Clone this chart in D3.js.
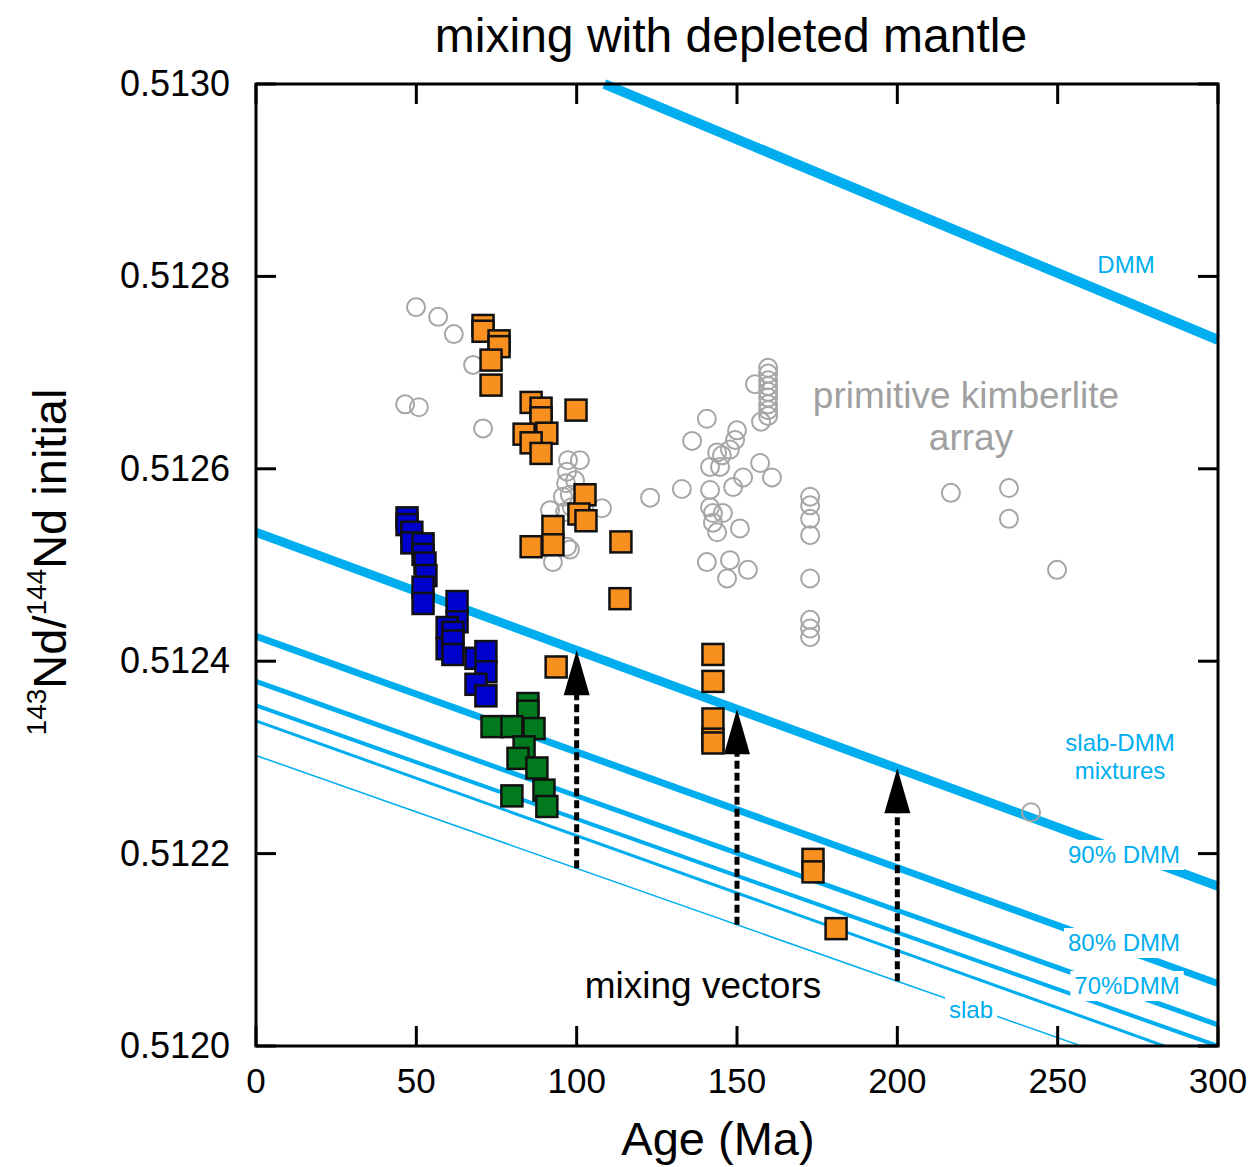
<!DOCTYPE html>
<html>
<head>
<meta charset="utf-8">
<script src="https://cdn.jsdelivr.net/npm/d3@7"></script>
<style>
  body { margin: 0; background: #fff; }
  text { font-family: "Liberation Sans", Arial, sans-serif; }
</style>
</head>
<body>
<div id="main"></div>
<script>
// axis ticks
const xTicks = [0, 50, 100, 150, 200, 250, 300];
const yTicks = [0.5120, 0.5122, 0.5124, 0.5126, 0.5128, 0.5130];

// mixing lines: Nd at 0 Ma and at 300 Ma
const lineNames = ['DMM', '90% DMM', '80% DMM', '70%DMM', '60% DMM', '50% DMM', 'slab'];
const lineNdStart = [0.513151, 0.512534, 0.512426, 0.512379, 0.512354, 0.512338, 0.512302];
const lineNdEnd = [0.512734, 0.512166, 0.512065, 0.512022, 0.512000, 0.511980, 0.511950];

// mixing vectors (ages)
const arrowAges = [100, 150, 200];

// primitive kimberlite array [age, Nd]
const kimberlite = [
  [49.9, 0.512768], [56.8, 0.512758], [61.7, 0.512740], [67.7, 0.512708], [46.5, 0.512667],
  [50.8, 0.512664], [70.8, 0.512642], [97.3, 0.512609], [101.0, 0.512609], [97.0, 0.512597],
  [96.7, 0.512585], [95.7, 0.512571], [98.5, 0.512560], [107.9, 0.512559], [96.4, 0.512555],
  [91.7, 0.512557], [97.9, 0.512516], [92.6, 0.512503], [97.0, 0.512519], [97.9, 0.512573],
  [99.5, 0.512588], [122.9, 0.512570], [132.8, 0.512579], [136.0, 0.512629], [140.6, 0.512652],
  [155.6, 0.512688], [159.7, 0.512705], [159.7, 0.512699], [159.7, 0.512692], [159.7, 0.512686],
  [159.7, 0.512680], [159.7, 0.512674], [159.7, 0.512667], [159.7, 0.512661], [159.7, 0.512655],
  [157.5, 0.512649], [150.0, 0.512640], [149.4, 0.512630], [143.8, 0.512617], [147.8, 0.512620],
  [145.3, 0.512614], [157.2, 0.512606], [160.9, 0.512591], [151.9, 0.512591], [148.8, 0.512581],
  [141.6, 0.512578], [144.7, 0.512602], [141.6, 0.512602], [142.5, 0.512554], [145.6, 0.512554],
  [150.9, 0.512538], [142.5, 0.512544], [143.8, 0.512534], [141.6, 0.512560], [140.6, 0.512503],
  [147.8, 0.512505], [146.9, 0.512486], [153.4, 0.512495], [172.8, 0.512571], [172.8, 0.512562],
  [172.8, 0.512548], [172.8, 0.512531], [172.8, 0.512486], [172.8, 0.512443], [172.8, 0.512434],
  [172.8, 0.512425], [216.7, 0.512575], [234.8, 0.512580], [234.8, 0.512548], [249.8, 0.512495],
  [241.7, 0.512243]
];

const orangeSamples = [
  [70.8, 0.512749], [70.8, 0.512743], [75.8, 0.512733], [75.8, 0.512727], [73.3, 0.512713],
  [73.3, 0.512687], [85.8, 0.512669], [88.9, 0.512663], [88.9, 0.512653], [99.8, 0.512661],
  [83.6, 0.512636], [90.7, 0.512637], [85.8, 0.512627], [88.9, 0.512616], [102.6, 0.512573],
  [100.7, 0.512553], [102.9, 0.512546], [92.6, 0.512540], [92.6, 0.512521], [85.8, 0.512519],
  [113.8, 0.512524], [113.5, 0.512465], [93.6, 0.512394], [142.5, 0.512407], [142.5, 0.512379],
  [142.5, 0.512340], [142.5, 0.512319], [142.5, 0.512315], [173.7, 0.512194], [173.7, 0.512181],
  [180.9, 0.512122]
];

const blueSamples = [
  [47.1, 0.512549], [47.1, 0.512542], [48.6, 0.512534], [48.6, 0.512523], [52.1, 0.512522],
  [52.1, 0.512511], [52.7, 0.512502], [53.0, 0.512489], [52.1, 0.512477], [52.1, 0.512460],
  [62.7, 0.512462], [62.7, 0.512441], [59.6, 0.512435], [59.6, 0.512413], [61.4, 0.512430],
  [61.4, 0.512421], [61.4, 0.512407], [68.6, 0.512403], [71.7, 0.512410], [71.7, 0.512389],
  [68.6, 0.512376], [71.7, 0.512364]
];

const greenSamples = [
  [84.8, 0.512356], [84.8, 0.512348], [73.6, 0.512332], [79.8, 0.512332], [86.7, 0.512330],
  [83.6, 0.512311], [81.7, 0.512299], [87.6, 0.512289], [89.8, 0.512266], [90.7, 0.512249],
  [79.8, 0.512260]
];

const CYAN = '#00aeef';

class NdMixingPlot {
  constructor(config) {
    this.config = config;
    this.svg = null;
    this.margins = null;
    this.xScale = null;
    this.yScale = null;
    this.createSvg();
    this.createMargins();
    this.createScales();
  }

  createSvg() {
    this.svg = d3.select(this.config.div)
      .append('svg')
      .attr('width', 1250)
      .attr('height', 1167);
  }

  createMargins() {
    this.margins = this.svg.append('g')
      .attr('transform', `translate(${this.config.left},${this.config.top})`);
  }

  createScales() {
    this.xScale = d3.scaleLinear().domain([0, 300]).range([0, this.config.width]);
    this.yScale = d3.scaleLinear().domain([0.5120, 0.5130]).range([this.config.height, 0]);
  }

  lineAt(i, age) {
    return lineNdStart[i] + (lineNdEnd[i] - lineNdStart[i]) * age / 300;
  }

  // age where line i reaches the top of the y domain (0 if it starts inside)
  startAge(i) {
    let top = this.yScale.domain()[1];
    if (lineNdStart[i] <= top) return 0;
    return (lineNdStart[i] - top) / (lineNdStart[i] - lineNdEnd[i]) * 300;
  }

  renderLines() {
    this.svg.append('defs').append('clipPath').attr('id', 'plotclip')
      .append('rect')
        .attr('x', -4).attr('y', -10)
        .attr('width', this.config.width + 8)
        .attr('height', this.config.height + 10);

    let widths = [10, 9, 7, 5, 4, 3, 1.5];
    this.margins.append('g')
      .attr('clip-path', 'url(#plotclip)')
      .selectAll('line')
      .data(lineNames)
      .enter()
      .append('line')
        .attr('x1', (d, i) => this.xScale(this.startAge(i)))
        .attr('x2', this.xScale(300))
        .attr('y1', (d, i) => this.yScale(this.lineAt(i, this.startAge(i))))
        .attr('y2', (d, i) => this.yScale(lineNdEnd[i]))
        .attr('stroke', CYAN)
        .attr('stroke-width', (d, i) => widths[i]);
  }

  renderLineLabels() {
    let g = this.margins.append('g');
    let labels = [
      {t: '90% DMM', x: 1124, y: 863, box: true},
      {t: '80% DMM', x: 1124, y: 951, box: true},
      {t: '70%DMM', x: 1127, y: 994, box: true},
      {t: 'slab', x: 971, y: 1018, box: true},
      {t: 'DMM', x: 1126, y: 273, box: false},
      {t: 'slab-DMM', x: 1120, y: 751, box: false},
      {t: 'mixtures', x: 1120, y: 779, box: false}
    ];
    labels.forEach(l => {
      let txt = g.append('text')
        .attr('x', l.x - this.config.left)
        .attr('y', l.y - this.config.top)
        .attr('text-anchor', 'middle')
        .attr('font-size', 24)
        .attr('fill', CYAN)
        .text(l.t);
      if (l.box) {
        let b = txt.node().getBBox();
        g.insert('rect', () => txt.node())
          .attr('x', b.x - 4).attr('y', b.y - 1)
          .attr('width', b.width + 8).attr('height', b.height + 3)
          .attr('fill', '#fff');
      }
    });
  }

  renderArrows() {
    let g = this.margins.append('g');
    arrowAges.forEach(a => {
      let x = this.xScale(a);
      let yBottom = this.yScale(this.lineAt(6, a));
      let yTip = this.yScale(this.lineAt(1, a));
      g.append('line')
        .attr('x1', x).attr('x2', x)
        .attr('y1', yBottom).attr('y2', yTip + 40)
        .attr('stroke', '#000')
        .attr('stroke-width', 5)
        .attr('stroke-dasharray', '8,4');
      g.append('path')
        .attr('d', `M${x},${yTip} L${x - 13},${yTip + 45} L${x + 13},${yTip + 45} Z`)
        .attr('fill', '#000');
    });
  }

  renderPoints() {
    this.margins.append('g')
      .selectAll('circle')
      .data(kimberlite)
      .enter()
      .append('circle')
        .attr('cx', d => this.xScale(d[0]))
        .attr('cy', d => this.yScale(d[1]))
        .attr('r', 9)
        .attr('fill', 'none')
        .attr('stroke', '#a6a6a6')
        .attr('stroke-width', 2);

    let s = 21;
    [[orangeSamples, '#f7901e'], [blueSamples, '#0000cc'], [greenSamples, '#007a1c']].forEach(([data, col]) => {
      this.margins.append('g')
        .selectAll('rect')
        .data(data)
        .enter()
        .append('rect')
          .attr('x', d => this.xScale(d[0]) - s / 2)
          .attr('y', d => this.yScale(d[1]) - s / 2)
          .attr('width', s)
          .attr('height', s)
          .attr('fill', col)
          .attr('stroke', '#111')
          .attr('stroke-width', 2.5);
    });
  }

  renderFrame() {
    let w = this.config.width, h = this.config.height;
    let g = this.margins.append('g');
    g.append('rect')
      .attr('width', w).attr('height', h)
      .attr('fill', 'none').attr('stroke', '#000').attr('stroke-width', 3);

    let tl = 20;
    xTicks.forEach(t => {
      let x = this.xScale(t);
      g.append('line').attr('x1', x).attr('x2', x).attr('y1', h).attr('y2', h - tl)
        .attr('stroke', '#000').attr('stroke-width', 3);
      g.append('line').attr('x1', x).attr('x2', x).attr('y1', 0).attr('y2', tl)
        .attr('stroke', '#000').attr('stroke-width', 3);
    });
    yTicks.forEach(t => {
      let y = this.yScale(t);
      g.append('line').attr('x1', 0).attr('x2', tl).attr('y1', y).attr('y2', y)
        .attr('stroke', '#000').attr('stroke-width', 3);
      g.append('line').attr('x1', w).attr('x2', w - tl).attr('y1', y).attr('y2', y)
        .attr('stroke', '#000').attr('stroke-width', 3);
    });

    g.selectAll('.xlab')
      .data(xTicks)
      .enter()
      .append('text')
        .attr('x', d => this.xScale(d))
        .attr('y', h + 47)
        .attr('text-anchor', 'middle')
        .attr('font-size', 35)
        .text(d => d);

    g.selectAll('.ylab')
      .data(yTicks)
      .enter()
      .append('text')
        .attr('x', -26)
        .attr('y', d => this.yScale(d) + 12)
        .attr('text-anchor', 'end')
        .attr('font-size', 36)
        .text(d => d.toFixed(4));
  }

  renderTexts() {
    this.svg.append('text')
      .attr('x', 731).attr('y', 52)
      .attr('text-anchor', 'middle')
      .attr('font-size', 48)
      .text('mixing with depleted mantle');

    this.svg.append('text')
      .attr('x', 718).attr('y', 1155)
      .attr('text-anchor', 'middle')
      .attr('font-size', 47)
      .text('Age (Ma)');

    let yt = this.svg.append('text')
      .attr('transform', 'translate(66,562) rotate(-90)')
      .attr('text-anchor', 'middle')
      .attr('font-size', 47);
    yt.append('tspan').attr('font-size', 28).attr('dy', -20).text('143');
    yt.append('tspan').attr('dy', 20).text('Nd/');
    yt.append('tspan').attr('font-size', 28).attr('dy', -20).text('144');
    yt.append('tspan').attr('dy', 20).text('Nd initial');

    this.svg.append('text')
      .attr('x', 966).attr('y', 408)
      .attr('text-anchor', 'middle')
      .attr('font-size', 37)
      .attr('fill', '#a0a0a0')
      .text('primitive kimberlite');
    this.svg.append('text')
      .attr('x', 971).attr('y', 450)
      .attr('text-anchor', 'middle')
      .attr('font-size', 37)
      .attr('fill', '#a0a0a0')
      .text('array');

    this.svg.append('text')
      .attr('x', 703).attr('y', 998)
      .attr('text-anchor', 'middle')
      .attr('font-size', 37)
      .text('mixing vectors');
  }
}

let plotConfig = {div: '#main', width: 962, height: 962, top: 84, left: 256};
let plot = new NdMixingPlot(plotConfig);

plot.renderLines();
plot.renderLineLabels();
plot.renderArrows();
plot.renderPoints();
plot.renderFrame();
plot.renderTexts();
</script>
</body>
</html>
